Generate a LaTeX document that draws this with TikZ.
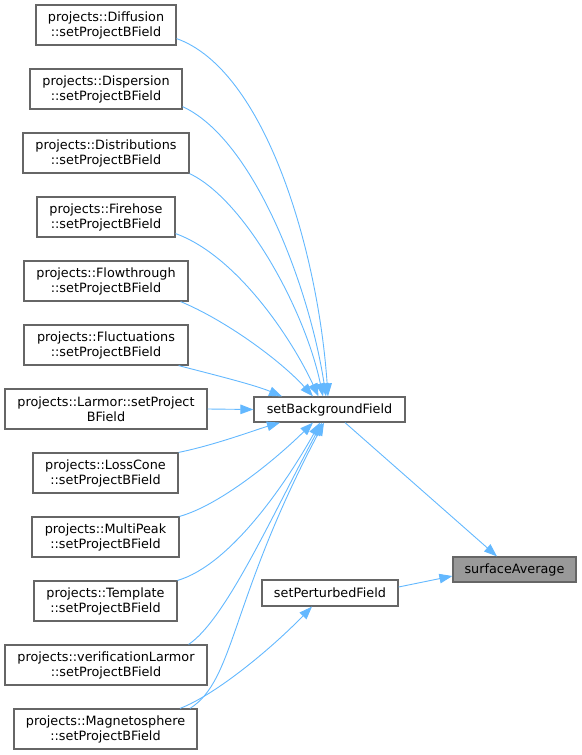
\documentclass[tikz,border=0pt]{standalone}
\usepackage{fontspec}
\setmainfont{DejaVu Sans}
\usetikzlibrary{arrows.meta}
\definecolor{edgec}{HTML}{63B8FF}
\definecolor{bord}{HTML}{666666}
\definecolor{hl}{HTML}{999999}
\begin{document}
\begin{tikzpicture}[x=1pt,y=-1pt,
 box/.style={draw=bord, line width=1.2pt, fill=white, inner sep=0pt, align=center,
   font=\fontsize{12.8}{15}\selectfont, minimum height=40pt},
 sbox/.style={box, minimum height=25pt},
 edge/.style={draw=edgec, line width=0.9pt, -{Triangle[length=13pt,width=9.5pt]}}]
\useasboundingbox (0,0) rectangle (581,755);

\node[box, minimum width=140pt] (diff) at (106,25) {projects::Diffusion\\::setProjectBField};
\node[box, minimum width=152pt] (disp) at (106,89) {projects::Dispersion\\::setProjectBField};
\node[box, minimum width=166pt] (distr) at (106,153) {projects::Distributions\\::setProjectBField};
\node[box, minimum width=138pt] (fire) at (106,217) {projects::Firehose\\::setProjectBField};
\node[box, minimum width=164pt] (flow) at (106,281) {projects::Flowthrough\\::setProjectBField};
\node[box, minimum width=164pt] (fluc) at (106,345) {projects::Fluctuations\\::setProjectBField};
\node[box, minimum width=202pt] (larm) at (106,409) {projects::Larmor::setProject\\BField};
\node[box, minimum width=145pt] (loss) at (105.5,473) {projects::LossCone\\::setProjectBField};
\node[box, minimum width=147pt] (multi) at (105.5,537) {projects::MultiPeak\\::setProjectBField};
\node[box, minimum width=143pt] (templ) at (105.5,601) {projects::Template\\::setProjectBField};
\node[box, minimum width=202pt] (verif) at (106,665) {projects::verificationLarmor\\::setProjectBField};
\node[box, minimum width=183pt] (magn) at (105.5,729) {projects::Magnetosphere\\::setProjectBField};

\node[sbox, minimum width=151pt] (sbf) at (329.5,409.5) {setBackgroundField};
\node[sbox, minimum width=136pt, minimum height=26pt] (spf) at (330,593) {setPerturbedField};
\node[sbox, minimum width=123pt, fill=hl] (sa) at (514.5,569.5) {surfaceAverage};

% upper edges to setBackgroundField top
\draw[edge] ([yshift=7pt]diff.south east) .. controls (265,70) and (318,250) .. ([xshift=-1.5pt]sbf.north);
\draw[edge] ([yshift=3pt]disp.south east) .. controls (255,140) and (310,290) .. ([xshift=-3.5pt]sbf.north);
\draw[edge] (distr.south east) .. controls (245,200) and (305,310) .. ([xshift=-6.5pt]sbf.north);
\draw[edge] ([yshift=4pt]fire.south east) .. controls (235,255) and (290,335) .. ([xshift=-11pt]sbf.north);
\draw[edge] ([xshift=-8pt]flow.south east) .. controls (225,320) and (280,360) .. ([xshift=-16.5pt]sbf.north);
\draw[edge] ([xshift=-10pt]fluc.south east) .. controls (215,375) and (255,385) .. ([xshift=-47.5pt]sbf.north);
\draw[edge] (larm.east) -- (sbf.west);
% lower edges to setBackgroundField bottom
\draw[edge] (loss.north east) .. controls (215,445) and (255,430) .. ([xshift=-49.5pt]sbf.south);
\draw[edge] (multi.north east) .. controls (220,505) and (275,460) .. ([xshift=-16.5pt]sbf.south);
\draw[edge] (templ.north east) .. controls (230,565) and (285,485) .. ([xshift=-9.5pt]sbf.south);
\draw[edge] ([xshift=-19pt]verif.north east) .. controls (225,620) and (270,520) .. ([xshift=-7.5pt]sbf.south);
\draw[edge] ([xshift=84.5pt]magn.north) .. controls (235,680) and (230,600) .. ([xshift=-5.5pt]sbf.south);
% to setPerturbedField
\draw[edge] ([xshift=74.5pt]magn.north) .. controls (215,695) and (270,650) .. ([xshift=-18pt]spf.south);
% to surfaceAverage
\draw[edge] ([xshift=15.5pt]sbf.south) -- ([xshift=-17.5pt]sa.north);
\draw[edge] ([yshift=6pt]spf.east) -- ([yshift=-6.5pt]sa.west);
\end{tikzpicture}
\end{document}
